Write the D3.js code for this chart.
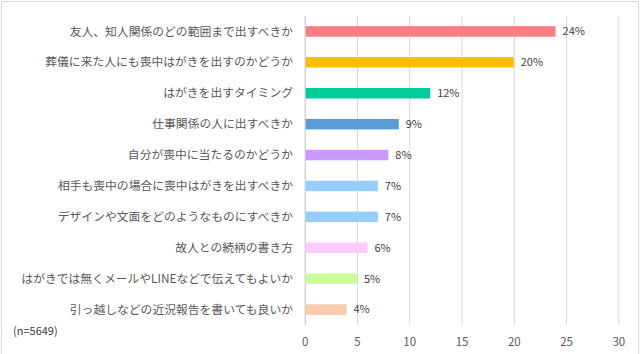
<!doctype html>
<html lang="ja">
<head>
<meta charset="utf-8">
<title>喪中はがき 悩み</title>
<script src="https://d3js.org/d3.v7.min.js"></script>
<style>
  body { margin: 0; background: #fff; }
  text { font-family: "Noto Sans CJK JP", "Noto Sans", sans-serif; }
</style>
</head>
<body>
<div id="chart"></div>
<script>
// data
var labels = [
  "友人、知人関係のどの範囲まで出すべきか",
  "葬儀に来た人にも喪中はがきを出すのかどうか",
  "はがきを出すタイミング",
  "仕事関係の人に出すべきか",
  "自分が喪中に当たるのかどうか",
  "相手も喪中の場合に喪中はがきを出すべきか",
  "デザインや文面をどのようなものにすべきか",
  "故人との続柄の書き方",
  "はがきでは無くメールやLINEなどで伝えてもよいか",
  "引っ越しなどの近況報告を書いても良いか"
];
var values = [24, 20, 12, 9, 8, 7, 7, 6, 5, 4];
var barColors = ["#ff7c80", "#ffc000", "#00cc99", "#5b9bd5", "#cc99ff",
                 "#99ccff", "#99ccff", "#ffccff", "#ccff99", "#f8cbad"];
var xTicks = [0, 5, 10, 15, 20, 25, 30];
var note = "(n=5649)";

var W = 640, H = 354;
var svg = d3.select("#chart").append("svg")
  .attr("width", W).attr("height", H);

svg.append("rect")
  .attr("x", 1.5).attr("y", 1.5)
  .attr("width", W - 3).attr("height", H + 10)
  .attr("fill", "#fff").attr("stroke", "#d9d9d9");

var x = d3.scaleLinear().domain([0, 30]).range([304.7, 618.3]);
var y = d3.scaleBand().domain(labels).range([16, 325]).paddingInner(0.66).paddingOuter(0.33);

// gridlines
svg.append("g").selectAll("line").data(xTicks).enter().append("line")
  .attr("x1", d => x(d) + 0.5).attr("x2", d => x(d) + 0.5)
  .attr("y1", 16).attr("y2", 325)
  .attr("stroke", d => d == 0 ? "#bfbfbf" : "#d9d9d9")
  .attr("stroke-width", 1);

// x tick labels
var xaxis = d3.axisBottom(x).tickValues(xTicks).tickSize(0).tickPadding(0);
var gx = svg.append("g").attr("transform", "translate(0,336)").call(xaxis);
gx.select(".domain").remove();
gx.selectAll("text")
  .attr("dy", "0.35em")
  .attr("y", 6)
  .style("font-size", "11.5px")
  .style("fill", "#595959");

// bars
svg.append("g").selectAll("rect").data(values).enter().append("rect")
  .attr("x", x(0) + 1)
  .attr("y", (d, i) => y(labels[i]))
  .attr("width", d => x(d) - x(0) - 1)
  .attr("height", y.bandwidth())
  .attr("fill", (d, i) => barColors[i]);

// value labels
svg.append("g").selectAll("text").data(values).enter().append("text")
  .attr("x", d => x(d) + 7)
  .attr("y", (d, i) => y(labels[i]) + y.bandwidth() / 2)
  .attr("dy", "0.35em")
  .style("font-size", "11px")
  .style("fill", "#404040")
  .text(d => d + "%");

// category labels
svg.append("g").selectAll("text").data(labels).enter().append("text")
  .attr("x", 293)
  .attr("y", d => y(d) + y.bandwidth() / 2)
  .attr("dy", "0.35em")
  .attr("text-anchor", "end")
  .style("font-size", "11.8px")
  .style("fill", "#595959")
  .text(d => d);

svg.append("text")
  .attr("x", 13).attr("y", 331)
  .attr("dy", "0.35em")
  .style("font-size", "11px")
  .style("fill", "#404040")
  .text(note);
</script>
</body>
</html>
